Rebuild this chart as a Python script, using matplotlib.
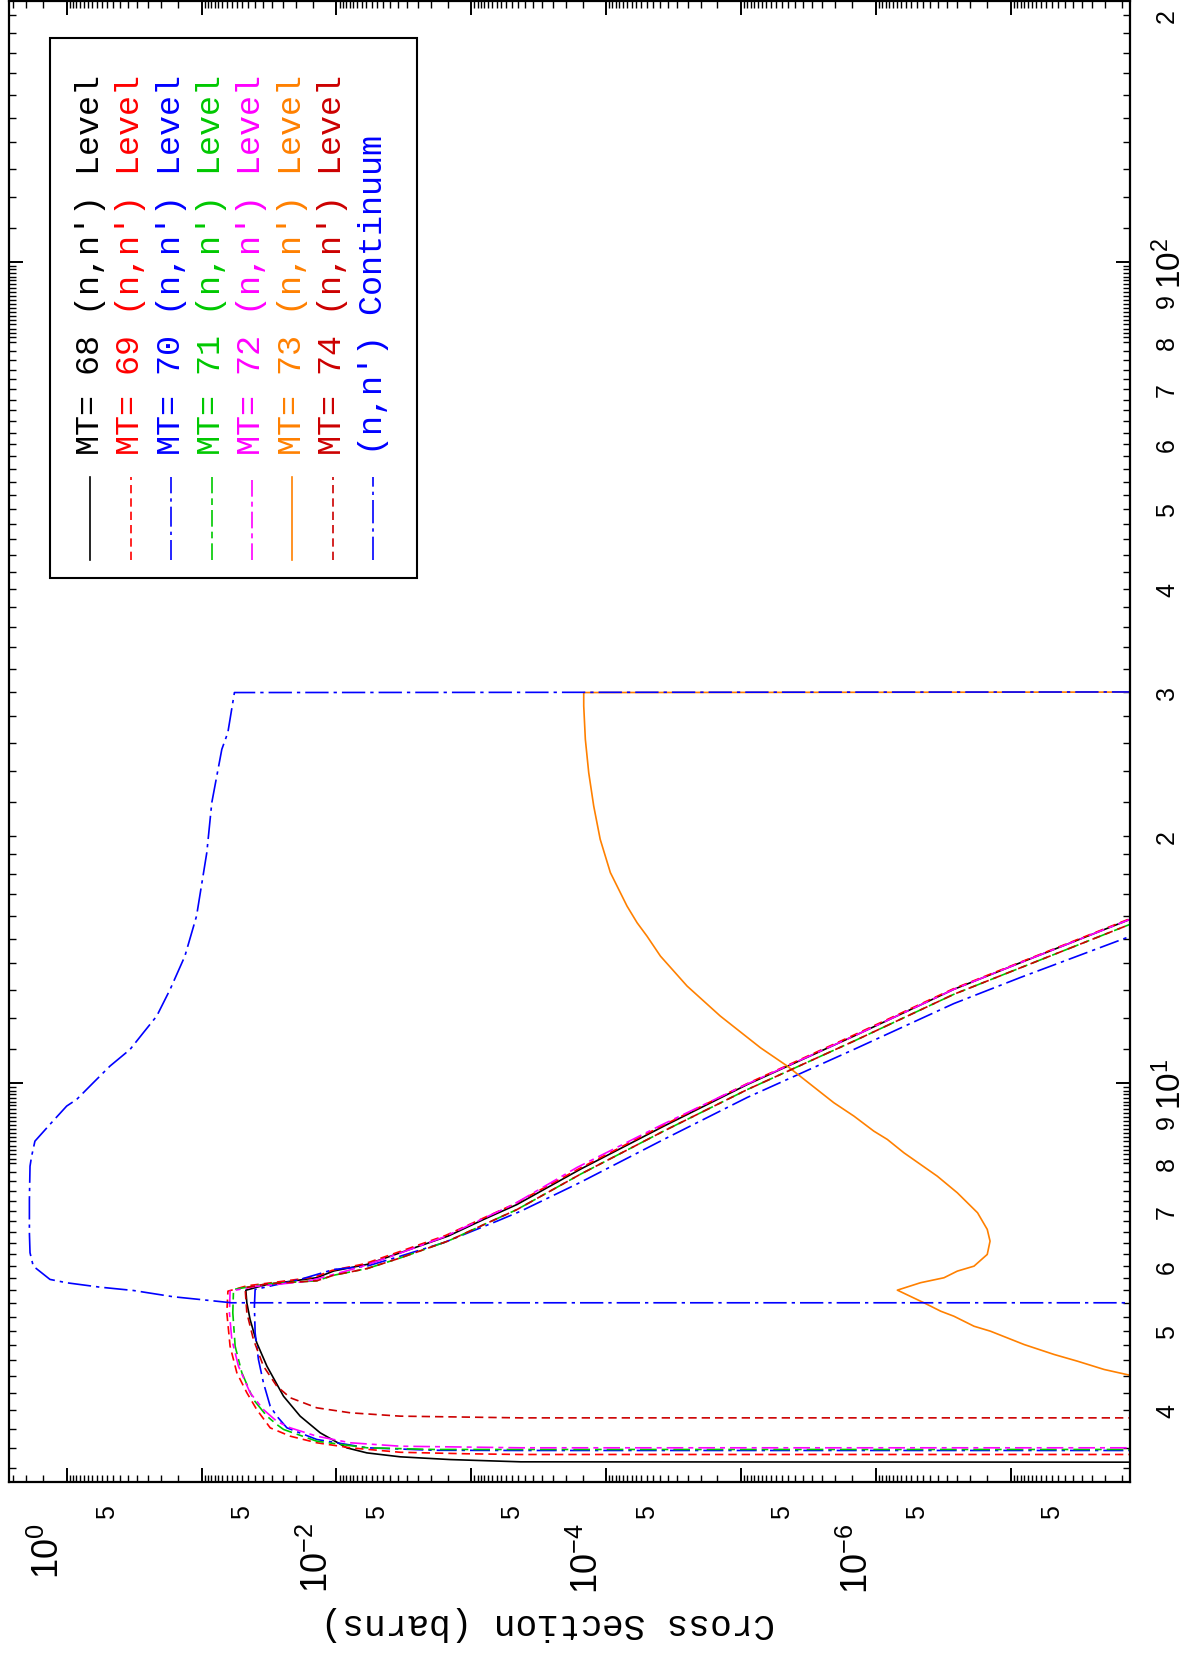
import numpy as np
import matplotlib
matplotlib.use("Agg")
import matplotlib.pyplot as plt
from matplotlib.ticker import LogLocator, FuncFormatter
from matplotlib.patches import Rectangle

plt.rcParams['font.family'] = ['Liberation Sans', 'DejaVu Sans']
plt.rcParams['mathtext.default'] = 'regular'

# energy (MeV) / cross section (barns)
E68 = [3.455, 3.461, 3.483, 3.510, 3.549, 3.599, 3.754, 3.934, 4.160, 4.526, 4.833, 5.159, 5.406, 5.600,
       5.69, 5.80, 5.91, 6.02, 6.22, 6.52, 6.83, 7.12, 7.86, 8.87, 9.97, 11.42, 13.02, 14.03, 15.85]
S68 = [1e-12, 4.3e-4, 1.43e-3, 3.37e-3, 5.95e-3, 8.37e-3, 0.0132, 0.0186, 0.0247, 0.0328, 0.0390, 0.0437, 0.0462, 0.047,
       0.0328, 0.0140, 0.0105, 0.00594, 0.00337, 0.00148, 8.1e-4, 4.6e-4, 1.56e-4, 3.75e-5, 9.0e-6, 1.46e-6, 2.65e-7, 8.5e-8, 1.3e-8]

E69 = [3.533, 3.533, 3.540, 3.555, 3.600, 3.651, 3.719, 3.807, 4.007, 4.201, 4.443, 4.786, 5.257, 5.585,
       5.67, 5.72, 5.81, 5.92, 6.03, 6.23, 6.53, 6.84, 7.13, 7.87, 8.88, 9.98, 11.43, 13.03, 14.04, 15.88]
S69 = [1e-12, 4.3e-4, 1.08e-3, 3.37e-3, 7.9e-3, 0.014, 0.022, 0.031, 0.039, 0.0462, 0.0548, 0.0615, 0.065, 0.0638,
       0.046, 0.030, 0.0145, 0.0108, 0.0062, 0.0035, 0.00155, 8.4e-4, 4.8e-4, 1.6e-4, 3.85e-5, 9.2e-6, 1.5e-6, 2.7e-7, 8.6e-8, 1.3e-8]

E70 = [3.573, 3.573, 3.575, 3.600, 3.685, 3.807, 3.934, 4.045, 4.320, 4.611, 4.970, 5.355, 5.612,
       5.772, 5.935, 5.991, 6.160, 6.397, 6.797, 6.990, 7.576, 8.547, 9.616, 11.00, 12.51, 13.46, 15.11]
S70 = [1e-12, 4.3e-4, 1.9e-3, 5.94e-3, 0.014, 0.0233, 0.0277, 0.031, 0.0348, 0.0379, 0.0401, 0.0406, 0.0401,
       0.0186, 0.0105, 0.00594, 0.00337, 0.00161, 6.45e-4, 4.3e-4, 1.56e-4, 3.75e-5, 9.0e-6, 1.46e-6, 2.65e-7, 8.5e-8, 1.3e-8]

E71 = [3.583, 3.583, 3.583, 3.600, 3.667, 3.790, 3.843, 3.934, 4.122, 4.443, 4.786, 5.257, 5.612,
       5.70, 5.75, 5.84, 5.95, 6.13, 6.43, 6.73, 7.02, 7.75, 8.75, 9.83, 11.26, 12.84, 13.83, 15.63]
S71 = [1e-12, 4.3e-4, 1.9e-3, 5.94e-3, 0.014, 0.0247, 0.0277, 0.0328, 0.0413, 0.0503, 0.0564, 0.0587, 0.058,
       0.0328, 0.0140, 0.0105, 0.00594, 0.00337, 0.00148, 8.1e-4, 4.6e-4, 1.56e-4, 3.75e-5, 9.0e-6, 1.46e-6, 2.65e-7, 8.5e-8, 1.3e-8]

E72 = [3.600, 3.600, 3.616, 3.651, 3.719, 3.807, 3.877, 4.007, 4.201, 4.526, 4.878, 5.257, 5.585,
       5.66, 5.74, 5.83, 5.97, 6.18, 6.50, 6.82, 7.12, 7.90, 8.90, 9.97, 11.42, 13.02, 14.03, 15.85]
S72 = [1e-12, 4.3e-4, 3.37e-3, 7.9e-3, 0.014, 0.022, 0.0277, 0.0348, 0.0437, 0.0533, 0.0597, 0.0622, 0.0615,
       0.040, 0.0165, 0.0115, 0.0068, 0.0037, 0.0016, 8.6e-4, 4.9e-4, 1.65e-4, 3.9e-5, 9.2e-6, 1.46e-6, 2.65e-7, 8.5e-8, 1.3e-8]

E73 = [4.409, 4.484, 4.589, 4.677, 4.809, 4.992, 5.062, 5.206, 5.280, 5.406, 5.601, 5.719, 5.799, 5.908, 5.991,
       6.191, 6.426, 6.641, 6.958, 7.359, 7.710, 7.967, 8.232, 8.547, 8.748, 9.124, 9.474, 9.972, 10.50, 11.05,
       12.08, 13.14, 14.29, 15.11, 15.69, 16.44, 18.06, 19.83, 21.77, 23.90, 26.24, 28.82, 29.92, 30.0]
S73 = [1.29e-8, 2.04e-8, 3.21e-8, 4.8e-8, 8.0e-8, 1.42e-7, 1.88e-7, 2.65e-7, 3.32e-7, 4.42e-7, 6.96e-7, 4.68e-7, 3.14e-7, 2.50e-7, 1.88e-7,
       1.50e-7, 1.43e-7, 1.50e-7, 1.77e-7, 2.50e-7, 3.52e-7, 4.68e-7, 6.22e-7, 8.26e-7, 1.04e-6, 1.46e-6, 2.06e-6, 3.06e-6, 4.56e-6, 7.19e-6,
       1.43e-5, 2.52e-5, 3.97e-5, 4.99e-5, 5.91e-5, 7.02e-5, 9.33e-5, 1.11e-4, 1.24e-4, 1.35e-4, 1.43e-4, 1.47e-4, 1.47e-4, 1e-12]

E74 = [3.915, 3.915, 3.934, 3.971, 4.027, 4.142, 4.279, 4.526, 4.878, 5.257, 5.639,
       5.70, 5.75, 5.84, 5.95, 6.13, 6.43, 6.73, 7.02, 7.75, 8.75, 9.83, 11.26, 12.84, 13.83, 15.63]
S74 = [1e-12, 4.3e-4, 3.37e-3, 7.9e-3, 0.014, 0.022, 0.0277, 0.0348, 0.0413, 0.0462, 0.0476,
       0.0328, 0.0140, 0.0105, 0.00594, 0.00337, 0.00148, 8.1e-4, 4.6e-4, 1.56e-4, 3.75e-5, 9.0e-6, 1.46e-6, 2.65e-7, 8.5e-8, 1.3e-8]

Econt = [5.406, 5.406, 5.456, 5.498, 5.596, 5.648, 5.718, 5.772, 5.991, 6.220, 6.578, 7.223, 7.929, 8.153, 8.505, 8.916,
         9.385, 9.561, 10.02, 10.50, 11.00, 11.53, 12.08, 13.02, 14.29, 15.99, 19.10, 21.98, 25.52, 26.74, 29.92, 30.0]
Scont = [1e-12, 0.060, 0.1026, 0.162, 0.321, 0.566, 1.0, 1.33, 1.77, 1.87, 1.89, 1.89, 1.87, 1.82, 1.72, 1.33,
         1.0, 0.843, 0.635, 0.477, 0.339, 0.270, 0.215, 0.171, 0.133, 0.109, 0.0915, 0.084, 0.0708, 0.0639, 0.0571, 1e-12]

labels = ["MT= 68 (n,n') Level", "MT= 69 (n,n') Level", "MT= 70 (n,n') Level", "MT= 71 (n,n') Level",
          "MT= 72 (n,n') Level", "MT= 73 (n,n') Level", "MT= 74 (n,n') Level", "(n,n') Continuum"]
colors = ['black', '#ff0000', '#0000ff', '#00c800', '#ff00ff', '#ff8000', '#cc0000', '#0000ff']
styles = ['-', (0, (5, 3)), (0, (12, 3, 2, 3)), (0, (10, 3, 4, 3)), (0, (10, 3, 3, 3)), '-', (0, (5, 3)), (0, (14, 3, 2, 3))]

series = [(E68, S68), (E69, S69), (E70, S70), (E71, S71), (E72, S72), (E73, S73), (E74, S74), (Econt, Scont)]

xlim = (2.7, 1.31e-8)
ylim = (3.27, 208)

fig = plt.figure(figsize=(11.89, 16.58), dpi=100)
ax = fig.add_axes([0.00715, 0.1055, 0.9433, 0.8933])

# the plot is drawn turned: cross section across, energy up
for (e, s), c, ls in zip(series, colors, styles):
    ax.plot(s, e, color=c, linestyle=ls, lw=1.2)

ax.set_xscale('log')
ax.set_yscale('log')
ax.set_xlim(*xlim)
ax.set_ylim(*ylim)

for sp in ax.spines.values():
    sp.set_linewidth(1.6)


def inside(v, lim):
    return min(lim) <= v <= max(lim)


def x_major_fmt(v, pos):
    k = int(round(np.log10(v)))
    return '$10^{%d}$' % k if k % 2 == 0 and inside(v, xlim) else ''


def y_major_fmt(v, pos):
    return '$10^{%d}$' % int(round(np.log10(v))) if inside(v, ylim) else ''


def sub_of(v):
    return v / 10 ** np.floor(np.log10(v) + 1e-9)


def x_minor_fmt(v, pos):
    return '5' if abs(sub_of(v) - 5) < 1e-6 and inside(v, xlim) else ''


def y_minor_fmt(v, pos):
    s = sub_of(v)
    r = round(s)
    if abs(s - r) < 1e-6 and 2 <= r <= 9 and inside(v, ylim):
        return str(int(r))
    return ''


ax.xaxis.set_major_locator(LogLocator(base=10, numticks=30))
ax.xaxis.set_minor_locator(LogLocator(base=10, subs=np.arange(1.5, 10, 0.5), numticks=30))
ax.xaxis.set_major_formatter(FuncFormatter(x_major_fmt))
ax.xaxis.set_minor_formatter(FuncFormatter(x_minor_fmt))

ysubs = list(np.arange(1.1, 2.0, 0.1)) + list(np.arange(2.0, 8.0, 0.2)) + list(np.arange(8.0, 9.95, 0.1))
ax.yaxis.set_major_locator(LogLocator(base=10, numticks=30))
ax.yaxis.set_minor_locator(LogLocator(base=10, subs=ysubs, numticks=30))
ax.yaxis.set_major_formatter(FuncFormatter(y_major_fmt))
ax.yaxis.set_minor_formatter(FuncFormatter(y_minor_fmt))

ax.tick_params(which='both', direction='in', top=True, bottom=True, left=True, right=True,
               labelleft=False, labelright=True, labeltop=False, labelbottom=True, width=1.0)
ax.tick_params(which='major', length=10, width=1.4)
ax.tick_params(which='minor', length=5)
ax.tick_params(axis='x', which='major', labelsize=26, pad=29, labelrotation=90)
ax.tick_params(axis='x', which='minor', labelsize=18, pad=16, labelrotation=90)
ax.tick_params(axis='y', which='major', labelsize=24, pad=17, labelrotation=90)
ax.tick_params(axis='y', which='minor', labelsize=18, pad=18, labelrotation=90)

ax.set_xlabel('Cross Section (barns)', rotation=180, fontsize=26,
              family=['Liberation Mono', 'DejaVu Sans'])
ax.xaxis.set_label_coords(0.481, -0.083)

# legend box, drawn turned like the plot
ax.add_patch(Rectangle((0.037, 0.6104), 0.3272, 0.3646, transform=ax.transAxes,
                       facecolor='white', edgecolor='black', lw=1.5, zorder=5))
for i, (lab, c, ls) in enumerate(zip(labels, colors, styles)):
    x = 0.0727 + 0.0361 * i
    ax.plot([x, x], [0.6226, 0.6786], transform=ax.transAxes, color=c, linestyle=ls, lw=1.2, zorder=6)
    ax.text(x, 0.6941, lab, transform=ax.transAxes, rotation=90, ha='center', va='bottom',
            color=c, fontsize=24, family=['Liberation Mono', 'DejaVu Sans'], zorder=6)

# align the turned tick labels in their own frame
fig.canvas.draw()
for lbl in ax.get_xticklabels(which='major'):
    lbl.set_rotation_mode('anchor')
    lbl.set_ha('right')
    lbl.set_va('bottom')
for lbl in ax.get_xticklabels(which='minor'):
    lbl.set_rotation_mode('anchor')
    lbl.set_ha('right')
    lbl.set_va('center')
for lbl in ax.get_yticklabels(which='both'):
    lbl.set_rotation_mode('anchor')
    lbl.set_ha('center')
    lbl.set_va('top')

fig.savefig('out.png', dpi=100)
